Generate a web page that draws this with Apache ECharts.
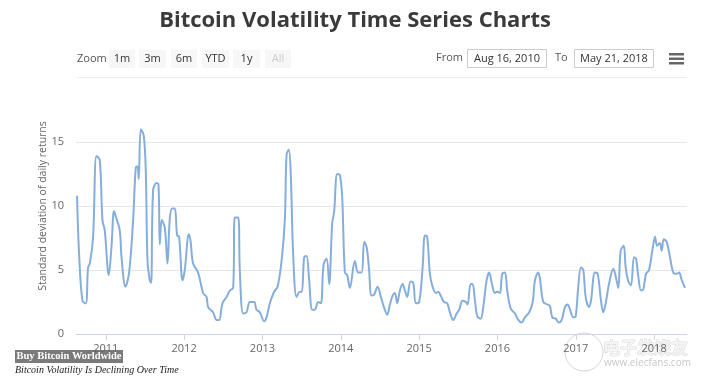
<!DOCTYPE html>
<html>
<head>
<meta charset="utf-8">
<script src="https://cdn.jsdelivr.net/npm/echarts@6/dist/echarts.min.js"></script>
<style>
html,body{margin:0;padding:0;background:#fff;}
#chart{width:710px;height:380px;}
</style>
</head>
<body>
<div id="chart"></div>
<script>
// ---- data (decimal year, std. deviation of daily returns) ----
const years = [
2010.633,2010.659,2010.702,2010.745,2010.774,2010.796,2010.838,2010.881,2010.923,2010.958,2010.987,
2011.038,2011.073,2011.106,2011.137,2011.179,2011.201,2011.252,2011.298,2011.349,2011.383,2011.405,2011.421,2011.447,2011.485,2011.511,2011.533,2011.562,2011.579,2011.604,2011.648,2011.673,2011.690,2011.715,2011.754,2011.788,2011.817,2011.847,2011.881,2011.911,2011.936,2011.980,
2012.009,2012.060,2012.082,2012.115,2012.179,2012.243,2012.286,2012.307,2012.370,2012.414,2012.447,2012.490,2012.542,2012.584,2012.626,2012.648,2012.690,2012.711,2012.754,2012.797,2012.839,2012.894,2012.925,2012.967,
2013.022,2013.052,2013.095,2013.149,2013.193,2013.244,2013.286,2013.308,2013.337,2013.363,2013.392,2013.436,2013.478,2013.503,2013.533,2013.563,2013.593,2013.635,2013.669,2013.711,2013.746,2013.780,2013.819,2013.852,2013.890,2013.916,2013.954,2013.989,
2014.018,2014.052,2014.082,2014.116,2014.180,2014.222,2014.266,2014.299,2014.330,2014.359,2014.393,2014.427,2014.470,2014.512,2014.551,2014.593,2014.627,2014.662,2014.691,2014.720,2014.755,2014.789,2014.819,2014.848,2014.891,2014.925,2014.959,
2015.001,2015.045,2015.074,2015.103,2015.138,2015.172,2015.215,2015.244,2015.275,2015.317,2015.359,2015.393,2015.436,2015.479,2015.512,2015.556,2015.598,2015.619,2015.658,2015.683,2015.713,2015.742,2015.785,2015.819,2015.862,2015.895,2015.930,2015.968,2015.997,
2016.032,2016.061,2016.096,2016.125,2016.169,2016.224,2016.266,2016.309,2016.351,2016.406,2016.450,2016.479,2016.521,2016.543,2016.585,2016.641,2016.670,2016.700,2016.743,2016.785,2016.820,2016.862,2016.897,2016.926,2016.968,2016.999,
2017.032,2017.066,2017.096,2017.126,2017.169,2017.194,2017.245,2017.280,2017.322,2017.351,2017.382,2017.424,2017.479,2017.510,2017.543,2017.573,2017.612,2017.637,2017.671,2017.705,2017.743,2017.769,2017.798,2017.833,2017.862,2017.897,2017.935,2017.977,
2018.012,2018.037,2018.072,2018.097,2018.123,2018.161,2018.203,2018.245,2018.289,2018.318,2018.353,2018.395
];
const volatility = [
10.8,6.3,2.6,2.4,5.2,5.5,7.6,13.9,13.6,8.9,8.1,
4.6,6.8,9.6,9.0,8.1,6.0,3.7,4.8,8.9,13.0,13.1,12.1,16.0,15.5,12.7,5.7,4.2,4.0,11.2,11.8,11.7,7.0,8.9,8.3,5.5,9.0,9.8,9.8,7.7,7.6,4.2,
5.0,7.8,7.3,5.5,4.8,3.2,2.9,2.1,1.7,1.1,1.1,2.4,2.9,3.4,3.6,9.1,9.1,5.0,1.6,1.7,2.5,2.5,1.9,1.7,
1.0,1.3,2.4,3.3,3.7,5.7,8.9,14.0,14.4,12.2,6.3,2.9,3.3,3.3,6.0,6.1,4.5,1.9,1.9,2.5,2.4,5.4,5.9,3.9,8.6,9.6,12.5,12.4,
10.7,4.8,4.6,3.6,5.7,4.8,4.8,7.2,6.8,5.2,3.0,3.1,3.7,2.9,2.1,1.5,2.3,3.0,3.2,2.4,3.4,3.9,3.4,2.9,4.1,4.0,2.4,
2.5,5.2,7.7,7.6,4.7,3.7,3.2,3.3,3.0,2.5,2.4,1.7,1.1,1.6,1.9,2.6,2.5,2.3,3.9,3.9,2.6,1.4,1.2,2.1,4.2,4.8,3.9,3.2,3.3,
3.2,4.7,4.8,3.4,2.0,1.6,1.1,0.9,1.3,1.7,2.5,4.2,4.8,4.3,2.5,2.3,2.2,1.3,1.2,0.9,1.1,2.1,2.3,1.9,1.3,1.4,
3.7,5.2,5.0,2.9,2.1,2.6,4.8,4.7,2.6,1.7,2.4,3.9,5.1,4.5,3.6,6.5,6.9,5.2,4.1,3.8,6.0,5.9,4.5,3.4,3.5,4.7,5.0,6.5,
7.6,6.9,7.1,6.5,7.4,7.2,6.0,4.8,4.7,4.8,4.2,3.6
];
const yearTicks = [2011,2012,2013,2014,2015,2016,2017,2018];
const yTicks = [0,5,10,15];
const zoomButtons = ['1m','3m','6m','YTD','1y','All'];
const fromDate = 'Aug 16, 2010';
const toDate = 'May 21, 2018';

const seriesData = years.map((y, i) => [y, volatility[i]]);

const chart = echarts.init(document.getElementById('chart'), null, {renderer: 'canvas'});

const baseFont = '"Open Sans", "DejaVu Sans", sans-serif';
const btnX = [109, 139, 171, 202, 233, 265];
const btnW = [26, 27, 26, 27, 27, 26];
const graphics = [];
// Zoom label
graphics.push({type:'text', x:77, y:59, style:{text:'Zoom', fill:'#555', font:'11px ' + baseFont, verticalAlign:'middle'}});
zoomButtons.forEach((b, i) => {
  graphics.push({type:'rect', shape:{x:btnX[i], y:50, width:btnW[i], height:18}, style:{fill:'#f7f7f7'}});
  graphics.push({type:'text', x:btnX[i] + btnW[i]/2, y:59, style:{text:b, fill: b === 'All' ? '#cccccc' : '#333', font:'11px ' + baseFont, align:'center', verticalAlign:'middle'}});
});
// separator line
graphics.push({type:'line', shape:{x1:77, y1:77.5, x2:687, y2:77.5}, style:{stroke:'#eeeeee', lineWidth:1}});
// From / To
graphics.push({type:'text', x:436, y:58, style:{text:'From', fill:'#555', font:'11px ' + baseFont, verticalAlign:'middle'}});
graphics.push({type:'rect', shape:{x:467.5, y:49.5, width:79, height:18}, style:{fill:'#fff', stroke:'#cccccc', lineWidth:1}});
graphics.push({type:'text', x:507, y:58.5, style:{text:fromDate, fill:'#333', font:'11px ' + baseFont, align:'center', verticalAlign:'middle'}});
graphics.push({type:'text', x:555, y:58, style:{text:'To', fill:'#555', font:'11px ' + baseFont, verticalAlign:'middle'}});
graphics.push({type:'rect', shape:{x:574.5, y:49.5, width:79, height:18}, style:{fill:'#fff', stroke:'#cccccc', lineWidth:1}});
graphics.push({type:'text', x:614, y:58.5, style:{text:toDate, fill:'#333', font:'11px ' + baseFont, align:'center', verticalAlign:'middle'}});
// hamburger
[53, 57.5, 62].forEach(yy => graphics.push({type:'rect', shape:{x:669, y:yy, width:15, height:2.5}, style:{fill:'#666'}}));
// y axis title
graphics.push({type:'text', x:43, y:206, rotation:Math.PI/2, style:{text:'Standard deviation of daily returns', fill:'#666', font:'10.5px ' + baseFont, align:'center', verticalAlign:'middle'}});
// caption
graphics.push({type:'rect', shape:{x:15, y:350, width:108, height:13}, style:{fill:'#7a7a7a'}});
graphics.push({type:'text', x:69, y:356.5, style:{text:'Buy Bitcoin Worldwide', fill:'#fff', font:'bold 10.5px "Liberation Serif", "DejaVu Serif", serif', align:'center', verticalAlign:'middle'}});
graphics.push({type:'text', x:15, y:370, style:{text:'Bitcoin Volatility Is Declining Over Time', fill:'#222', font:'italic 10px "Liberation Serif", "DejaVu Serif", serif', verticalAlign:'middle'}});
// watermark
graphics.push({type:'circle', shape:{cx:584, cy:352, r:19}, style:{fill:'none', stroke:'#d6d6d6', lineWidth:1}});
graphics.push({type:'text', x:603, y:348, style:{text:'电子发烧友', fill:'#f4f4f4', stroke:'#c4c4c4', lineWidth:0.6, font:'bold 17px "Noto Sans CJK SC", sans-serif', verticalAlign:'middle'}});
graphics.push({type:'text', x:604, y:363, style:{text:'www.elecfans.com', fill:'#c8c8c8', font:'10px ' + baseFont, verticalAlign:'middle'}});

chart.setOption({
  animation: false,
  backgroundColor: '#fff',
  title: {
    text: 'Bitcoin Volatility Time Series Charts',
    left: 'center',
    top: 5,
    textStyle: {fontFamily: baseFont, fontSize: 22, fontWeight: 'bold', color: '#3a3a3a'}
  },
  grid: {left: 76, right: 23, top: 142, bottom: 46},
  xAxis: {
    type: 'value',
    min: 2010.62,
    max: 2018.42,
    axisLine: {show: true, lineStyle: {color: '#ccd6eb'}},
    axisTick: {show: true, customValues: yearTicks, length: 6, lineStyle: {color: '#ccd6eb'}},
    axisLabel: {customValues: yearTicks, color: '#666', fontSize: 11, fontFamily: baseFont, margin: 9, formatter: v => String(Math.round(v))},
    splitLine: {show: false}
  },
  yAxis: {
    type: 'value',
    min: 0,
    max: 15,
    interval: 5,
    axisLine: {show: false},
    axisTick: {show: false},
    axisLabel: {color: '#666', fontSize: 11, fontFamily: baseFont, margin: 12, padding: [0,0,10,0]},
    splitLine: {show: true, lineStyle: {color: '#e6e6e6'}}
  },
  series: [{
    type: 'line',
    data: seriesData,
    showSymbol: false,
    smooth: 0.35,
    clip: false,
    lineStyle: {color: '#86aedd', width: 2},
    itemStyle: {color: '#86aedd'}
  }],
  graphic: graphics
});
</script>
</body>
</html>
